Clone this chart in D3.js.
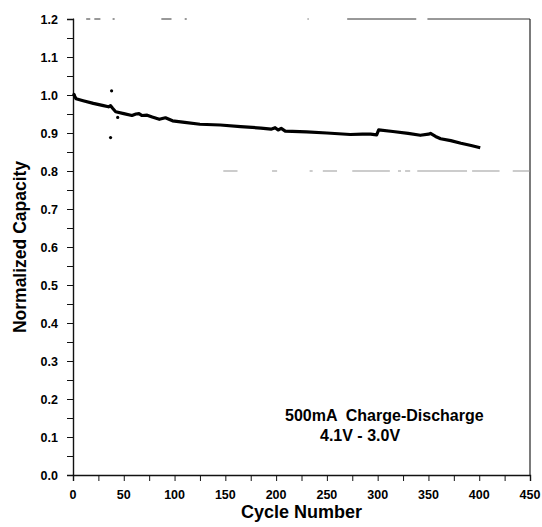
<!DOCTYPE html>
<html>
<head>
<meta charset="utf-8">
<script src="https://cdn.jsdelivr.net/npm/d3@7"></script>
<style>
  body { margin: 0; background: #fff; }
  svg { font-family: "Liberation Sans", Arial, sans-serif; font-weight: bold; }
</style>
</head>
<body>
<svg width="542" height="527"></svg>
<script>
const svg = d3.select("svg");

// capacity trace (cycle, normalized capacity)
const cycles = [1, 3, 10, 20, 30, 35, 37, 39, 42, 50, 58, 62, 65, 68, 73, 78, 85, 91, 98, 110, 125, 145, 165, 185, 195, 199, 202, 205, 209, 230, 250, 273, 285, 293, 299, 301, 315, 330, 342, 350, 352, 357, 362, 372, 382, 392, 401];
const capacity = [1.0, 0.99, 0.985, 0.978, 0.972, 0.969, 0.972, 0.965, 0.956, 0.951, 0.946, 0.950, 0.951, 0.946, 0.947, 0.942, 0.936, 0.940, 0.932, 0.928, 0.923, 0.921, 0.917, 0.913, 0.910, 0.914, 0.908, 0.912, 0.905, 0.903, 0.900, 0.896, 0.897, 0.897, 0.895, 0.908, 0.904, 0.899, 0.894, 0.897, 0.899, 0.891, 0.885, 0.880, 0.873, 0.867, 0.861];

// stray points
const strayCycles = [1, 38, 37, 44];
const strayCapacity = [1.002, 1.011, 0.888, 0.941];

const xTicks = [0, 50, 100, 150, 200, 250, 300, 350, 400, 450];
const yTicks = [0.0, 0.1, 0.2, 0.3, 0.4, 0.5, 0.6, 0.7, 0.8, 0.9, 1.0, 1.1, 1.2];

// pieces of the top frame edge and the 80% line that survived the scan (in cycle units)
const topEdge = [[0, 1], [13, 17], [21, 27], [39, 41], [87, 97], [110, 112], [231, 232], [270, 338], [349, 450]];
const line80 = [[148, 162], [196, 201], [233, 236], [246, 260], [275, 312], [320, 323], [327, 332], [339, 388], [393, 420], [433, 450]];

const x = d3.scaleLinear().domain([0, 450]).range([73, 530]);
const y = d3.scaleLinear().domain([0, 1.2]).range([475, 19]);

svg.append("g").selectAll("line")
  .data(topEdge).join("line")
  .attr("x1", d => x(d[0])).attr("x2", d => x(d[1]))
  .attr("y1", y(1.2)).attr("y2", y(1.2))
  .attr("stroke", "#333").attr("stroke-width", 1);

svg.append("line")
  .attr("x1", x(450)).attr("x2", x(450))
  .attr("y1", y(1.2)).attr("y2", y(0))
  .attr("stroke", "#222").attr("stroke-width", 1.2);

svg.append("g").selectAll("line")
  .data(line80).join("line")
  .attr("x1", d => x(d[0])).attr("x2", d => x(d[1]))
  .attr("y1", y(0.8)).attr("y2", y(0.8))
  .attr("stroke", "#999").attr("stroke-width", 1);

// axes
const yAxis = svg.append("g")
  .attr("transform", `translate(${x(0)},0)`)
  .call(d3.axisLeft(y).tickValues(d3.range(0, 1.2001, 0.05)).tickSize(6).tickFormat(""));
const xAxis = svg.append("g")
  .attr("transform", `translate(0,${y(0)})`)
  .call(d3.axisBottom(x).tickValues(d3.range(0, 451, 25)).tickSize(6).tickFormat(""));
[xAxis, yAxis].forEach(a => {
  a.select(".domain").attr("stroke", "#111").attr("stroke-width", 1.4);
  a.selectAll(".tick line").attr("stroke", "#111").attr("stroke-width", 1);
});

svg.append("g").selectAll("text")
  .data(yTicks).join("text")
  .attr("x", 58).attr("y", d => y(d) + 4.5)
  .attr("text-anchor", "end").attr("font-size", 12.5)
  .text(d => d3.format(".1f")(d));

svg.append("g").selectAll("text")
  .data(xTicks).join("text")
  .attr("x", d => x(d)).attr("y", 499)
  .attr("text-anchor", "middle").attr("font-size", 12.5)
  .text(d => d);

svg.append("text")
  .attr("x", (x(0) + x(450)) / 2).attr("y", 518)
  .attr("text-anchor", "middle").attr("font-size", 18)
  .text("Cycle Number");

svg.append("text")
  .attr("transform", `translate(26,${(y(0) + y(1.2)) / 2}) rotate(-90)`)
  .attr("text-anchor", "middle").attr("font-size", 17.5)
  .text("Normalized Capacity");

// data trace
const pts = cycles.map((c, i) => [c, capacity[i]]);
svg.append("path")
  .datum(pts)
  .attr("fill", "none").attr("stroke", "#000")
  .attr("stroke-width", 3.2).attr("stroke-linejoin", "round")
  .attr("d", d3.line().x(d => x(d[0])).y(d => y(d[1])));

svg.append("g").selectAll("circle")
  .data(strayCycles.map((c, i) => [c, strayCapacity[i]]))
  .join("circle")
  .attr("cx", d => x(d[0])).attr("cy", d => y(d[1]))
  .attr("r", 1.6).attr("fill", "#000");

// annotation
svg.append("text")
  .attr("x", 285).attr("y", 421).attr("font-size", 16)
  .attr("xml:space", "preserve")
  .text("500mA  Charge-Discharge");
svg.append("text")
  .attr("x", 320).attr("y", 441).attr("font-size", 16)
  .text("4.1V - 3.0V");
</script>
</body>
</html>
